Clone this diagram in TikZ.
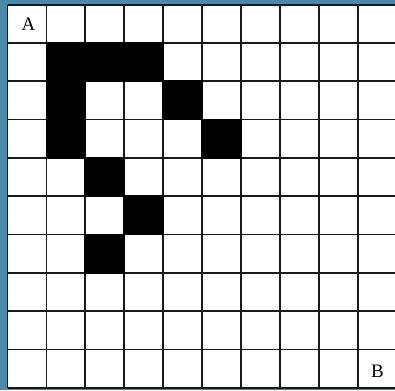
\documentclass[tikz,border=0pt]{standalone}
\usepackage{fontspec}
\setmainfont{Liberation Serif}
\definecolor{frameblue}{RGB}{76,136,168}
\begin{document}
\begin{tikzpicture}[x=1pt,y=-1pt,
  gridline/.style={line width=1.8pt,draw=black!90},
  filled/.style={fill=black},
  lbl/.style={font=\fontsize{19}{19}\selectfont,inner sep=0pt}]
\useasboundingbox (0,0) rectangle (395,390);
\fill[frameblue] (0,0) rectangle (395,390);
\pgfmathsetmacro{\xo}{7.5}
\pgfmathsetmacro{\yo}{4.7}
\pgfmathsetmacro{\dx}{38.9}
\pgfmathsetmacro{\dy}{38.3}
\begin{scope}
\clip (0,0) rectangle (395,390);
\fill[white] (\xo,\yo) rectangle ({\xo+10*\dx},{\yo+10*\dy});
\foreach \i in {0,...,10}{
  \draw[gridline] ({\xo+\i*\dx},\yo) -- ({\xo+\i*\dx},{\yo+10*\dy});
  \draw[gridline] (\xo,{\yo+\i*\dy}) -- ({\xo+10*\dx},{\yo+\i*\dy});
}
% black cells (col,row)
\foreach \c/\r in {1/1,2/1,3/1,1/2,4/2,1/3,5/3,2/4,3/5,2/6}{
  \fill[filled] ({\xo+\c*\dx-0.9},{\yo+\r*\dy-0.9}) rectangle ({\xo+(\c+1)*\dx+0.9},{\yo+(\r+1)*\dy+0.9});
}
\end{scope}
\node[lbl] (A) at (28.5,24) {A};
\node[lbl] (B) at (377.5,371) {B};
\end{tikzpicture}
\end{document}
